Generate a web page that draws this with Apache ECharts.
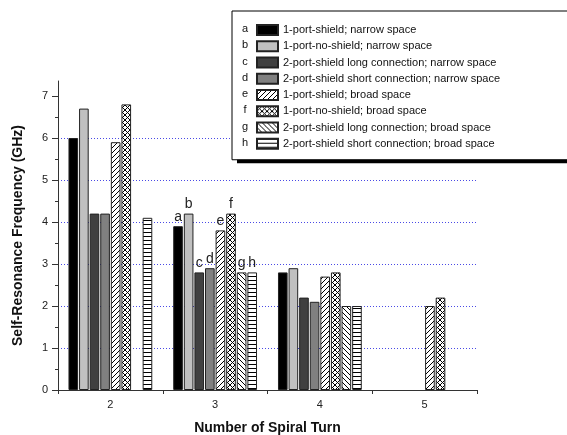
<!DOCTYPE html>
<html>
<head>
<meta charset="utf-8">
<script src="https://cdn.jsdelivr.net/npm/echarts@6/dist/echarts.min.js"></script>
<style>
  html, body { margin: 0; padding: 0; background: #fff; }
  #chart { width: 567px; height: 435px; }
</style>
</head>
<body>
<div id="chart"></div>
<script>
// Number of spiral turns on the x axis
const turns = ['2', '3', '4', '5'];

// Series letters and names
const letters = ['a', 'b', 'c', 'd', 'e', 'f', 'g', 'h'];
const seriesNames = [
  '1-port-shield; narrow space',
  '1-port-no-shield; narrow space',
  '2-port-shield long connection; narrow space',
  '2-port-shield short connection; narrow space',
  '1-port-shield; broad space',
  '1-port-no-shield; broad space',
  '2-port-shield long connection; broad space',
  '2-port-shield short connection; broad space'
];

// Self-resonance frequency (GHz) per series, one value per turn count
const freqA = [6.0, 3.9, 2.8, null];
const freqB = [6.7, 4.2, 2.9, null];
const freqC = [4.2, 2.8, 2.2, null];
const freqD = [4.2, 2.9, 2.1, null];
const freqE = [5.9, 3.8, 2.7, 2.0];
const freqF = [6.8, 4.2, 2.8, 2.2];
const freqG = [null, 2.8, 2.0, null];
const freqH = [4.1, 2.8, 2.0, null];

// Y axis tick values
const yTicks = [0, 1, 2, 3, 4, 5, 6, 7];

// Category index whose bars carry their letter as a label
const labelledTurn = 1;

// Hatch fills drawn on small repeating canvases
function hatch(kind) {
  const s = kind === 'h' ? 4 : 5;
  const c = document.createElement('canvas');
  c.width = s; c.height = s;
  const g = c.getContext('2d');
  g.fillStyle = '#fff';
  g.fillRect(0, 0, s, s);
  g.strokeStyle = '#000';
  g.lineWidth = 1;
  g.beginPath();
  if (kind === 'fwd' || kind === 'cross') {
    for (let k = -1; k <= 1; k++) {
      g.moveTo(k * s, s);
      g.lineTo(k * s + s, 0);
    }
  }
  if (kind === 'back' || kind === 'cross') {
    for (let k = -1; k <= 1; k++) {
      g.moveTo(k * s, 0);
      g.lineTo(k * s + s, s);
    }
  }
  if (kind === 'h') {
    g.moveTo(0, 0.5);
    g.lineTo(s, 0.5);
  }
  g.stroke();
  return { image: c, repeat: 'repeat' };
}

const fills = [
  '#000000',
  '#c0c0c0',
  '#404040',
  '#808080',
  hatch('fwd'),
  hatch('cross'),
  hatch('back'),
  hatch('h')
];
const values = [freqA, freqB, freqC, freqD, freqE, freqF, freqG, freqH];

const font = '"Liberation Sans", Arial, sans-serif';

const series = values.map((vals, si) => ({
  name: seriesNames[si],
  type: 'bar',
  barGap: '10%',
  barCategoryGap: '20%',
  itemStyle: {
    color: fills[si],
    borderColor: '#222',
    borderWidth: 1
  },
  data: vals.map((v, i) => (i === labelledTurn && v != null)
    ? { value: v, label: { show: true, formatter: letters[si] } }
    : v),
  label: {
    show: false,
    position: 'top',
    distance: 2,
    fontFamily: font,
    fontSize: 14,
    color: '#222'
  }
}));

// Legend box geometry
const legendLeft = 232;
const legendTop = 11;
const legendPadTop = 13;
const legendPadBottom = 10;
const rowStep = 16.25;
const legendHeight = 147.3;
const shadowOffset = 5;

// Plot box: 309 px tall, 42 px per GHz so gridlines land on whole pixels
const gridTop = 81;
const gridBottom = 45;
const pxPerUnit = 42;
const yMax = (435 - gridTop - gridBottom) / pxPerUnit;

const chart = echarts.init(document.getElementById('chart'), null, { renderer: 'canvas' });
chart.setOption({
  animation: false,
  backgroundColor: '#ffffff',
  grid: {
    left: 58, right: 90, top: gridTop, bottom: gridBottom,
    containLabel: false,
    outerBoundsMode: 'none'
  },
  legend: {
    orient: 'vertical',
    left: legendLeft,
    top: legendTop,
    padding: [legendPadTop, 80, legendPadBottom, 24],
    itemWidth: 21,
    itemHeight: 10,
    itemGap: 4.25,
    icon: 'rect',
    selectedMode: false,
    backgroundColor: '#fff',
    borderColor: '#000',
    borderWidth: 1,
    z: 10,
    textStyle: { fontFamily: font, fontSize: 11, color: '#111' },
    data: seriesNames
  },
  graphic: [
    // drop shadow behind the legend box
    {
      type: 'rect',
      z: 1,
      shape: {
        x: legendLeft + shadowOffset,
        y: legendTop + shadowOffset,
        width: 400,
        height: legendHeight
      },
      style: { fill: '#000' }
    }
  ].concat(letters.map((l, i) => ({
    type: 'text',
    z: 100,
    x: 245,
    y: legendTop + legendPadTop + 5 + i * rowStep,
    style: {
      text: l,
      font: '11px ' + font,
      fill: '#111',
      align: 'center',
      verticalAlign: 'middle'
    }
  }))),
  xAxis: {
    type: 'category',
    data: turns,
    name: 'Number of Spiral Turn',
    nameLocation: 'middle',
    nameGap: 31,
    nameTextStyle: { fontFamily: font, fontSize: 14, fontWeight: 'bold', color: '#111' },
    axisLine: { lineStyle: { color: '#333', width: 1 } },
    axisTick: { show: true, length: 4, lineStyle: { color: '#333' } },
    axisLabel: { fontFamily: font, fontSize: 11, color: '#222', margin: 9 },
    splitLine: { show: false }
  },
  yAxis: {
    type: 'value',
    min: 0,
    max: yMax,
    interval: 1,
    name: 'Self-Resonance Frequency (GHz)',
    nameLocation: 'middle',
    nameGap: 33,
    nameTextStyle: { fontFamily: font, fontSize: 14, fontWeight: 'bold', color: '#111' },
    axisLine: { show: true, lineStyle: { color: '#333', width: 1 } },
    axisTick: { show: true, length: 6, customValues: yTicks, lineStyle: { color: '#333' } },
    minorTick: { show: true, splitNumber: 2, length: 3, lineStyle: { color: '#333' } },
    axisLabel: { fontFamily: font, fontSize: 11, color: '#222', margin: 10, customValues: yTicks },
    splitLine: {
      show: true,
      showMinLine: false,
      showMaxLine: false,
      lineStyle: { color: '#4a4ae6', type: [1, 2], width: 1 }
    }
  },
  series: series
});
</script>
</body>
</html>
